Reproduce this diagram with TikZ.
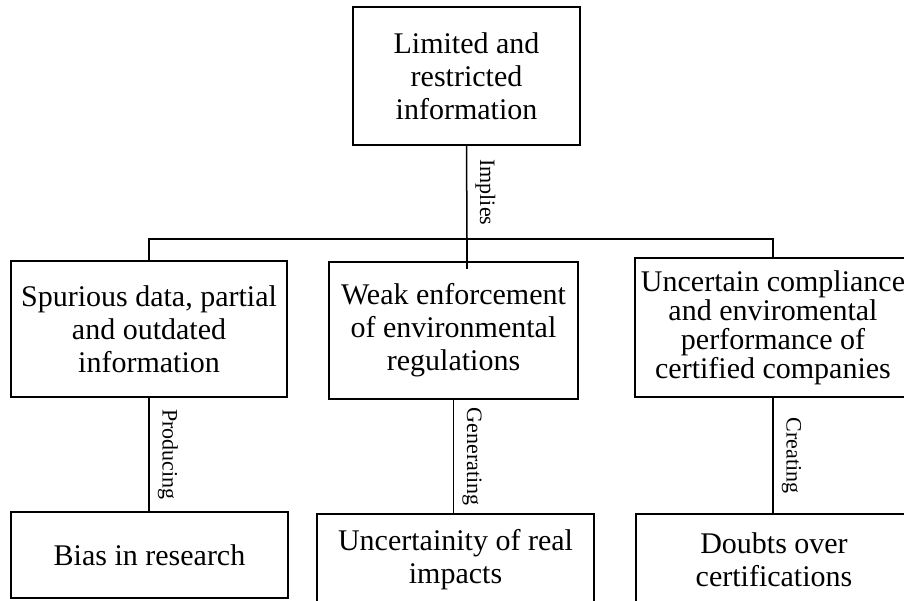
\documentclass[tikz,border=0pt]{standalone}
\usepackage{fontspec}
\setmainfont{Liberation Serif}

\begin{document}
\begin{tikzpicture}[x=1pt,y=-1pt,line width=1.5pt,
    box/.style={draw,align=center,inner sep=0pt,font=\fontsize{30}{33}\selectfont},
    lbl/.style={rotate=-90,anchor=south,inner sep=0pt,inner ysep=8pt,font=\fontsize{22}{24}\selectfont}]
    \clip (0,0) rectangle (904,600);
    \node[box,minimum width=227pt,minimum height=138pt] (limited) at (466.5,76) {Limited and\\restricted\\information};
    \node[box,minimum width=276pt,minimum height=136pt] (spurious) at (149,329) {Spurious data, partial\\and outdated\\information};
    \node[box,minimum width=249pt,minimum height=137pt] (weak) at (453.5,330.5) {Weak enforcement\\of environmental\\regulations};
    \node[box,minimum width=276pt,minimum height=139pt,font=\fontsize{30}{29}\selectfont] (compliance) at (773,327.5) {Uncertain compliance\\and enviromental\\performance of\\certified companies};
    \node[box,minimum width=277pt,minimum height=86pt] (bias) at (149.5,555) {Bias in research};
    \node[box,minimum width=277pt,minimum height=92pt] (impacts) at (455.5,560) {Uncertainity of real\\impacts};
    \node[box,minimum width=276pt,minimum height=92pt] (doubts) at (774,560) {Doubts over\\certifications};
    \coordinate (hub) at (467,239);
    \draw (limited.south) -- node[lbl]{Implies} (hub);
    \draw (spurious.north) |- (hub) -| (compliance.north);
    \draw (hub) -- ([yshift=-8pt]hub |- weak.north);
    \draw (spurious.south) -- node[lbl]{Producing} (spurious.south |- bias.north);
    \draw (weak.south) -- node[lbl]{Generating} (weak.south |- impacts.north);
    \draw (compliance.south) -- node[lbl]{Creating} (compliance.south |- doubts.north);
\end{tikzpicture}
\end{document}
